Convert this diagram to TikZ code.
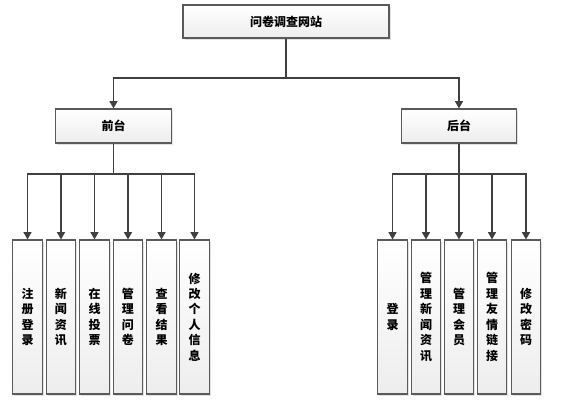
\documentclass[tikz,border=0pt]{standalone}
\usepackage{fontspec}
\usepackage{xcolor}
\usepackage{tikz}
\usetikzlibrary{positioning, arrows.meta, shadows}
\newfontfamily\cjk{Noto Sans CJK SC}
\definecolor{LineGray}{RGB}{64,64,64}
\definecolor{EdgeGray}{RGB}{90,90,90}
\tikzset{
  boxbase/.style={draw=EdgeGray, line width=0.8pt, top color=white, bottom color=gray!14,
    drop shadow={shadow xshift=1.2pt, shadow yshift=-1.2pt, fill=gray!45},
    align=center, inner sep=0pt, font=\cjk\bfseries\fontsize{9}{11.6}\selectfont},
  titlebox/.style={boxbase, minimum width=154.5pt, minimum height=24.75pt},
  sidebox/.style={boxbase, minimum width=86.5pt, minimum height=25.5pt},
  leafbox/.style={boxbase, minimum width=22pt, minimum height=115.5pt},
  link/.style={LineGray, line width=1pt},
  arr/.style={link, -{Triangle[length=5.5pt, width=6pt]}},
}

\begin{document}
\begin{tikzpicture}[x=0.75pt, y=-0.75pt]
  \useasboundingbox (0,0) rectangle (562,403);

  % top level
  \node[titlebox] (site) at (286,21.5) {问卷调查网站};
  \node[sidebox] (front) at (113.5,126) {前台};
  \node[sidebox] (back) at (459,126) {后台};

  % front part
  \node[leafbox] (f1) at (27.5,317) {注\\册\\登\\录};
  \node[leafbox] (f2) at (61,317) {新\\闻\\资\\讯};
  \node[leafbox] (f3) at (94.5,317) {在\\线\\投\\票};
  \node[leafbox] (f4) at (128,317) {管\\理\\问\\卷};
  \node[leafbox] (f5) at (161.5,317) {查\\看\\结\\果};
  \node[leafbox] (f6) at (194.5,317) {修\\改\\个\\人\\信\\息};

  % back part
  \node[leafbox] (b1) at (392.5,317) {登\\录};
  \node[leafbox] (b2) at (426,317) {管\\理\\新\\闻\\资\\讯};
  \node[leafbox] (b3) at (459,317) {管\\理\\会\\员};
  \node[leafbox] (b4) at (492,317) {管\\理\\友\\情\\链\\接};
  \node[leafbox] (b5) at (526,317) {修\\改\\密\\码};

  % connectors
  \coordinate (busTop) at (286,78);
  \coordinate (busFront) at (113.5,174);
  \coordinate (busBack) at (459,174);
  \draw[link] (site) -- (busTop);
  \draw[arr] (busTop) -| (front);
  \draw[arr] (busTop) -| (back);
  \draw[link] (front) -- (busFront);
  \draw[link] (back) -- (busBack);
  \foreach \n in {f1,f2,f3,f4,f5,f6}
    \draw[arr] (busFront) -| (\n);
  \foreach \n in {b1,b2,b3,b4,b5}
    \draw[arr] (busBack) -| (\n);
\end{tikzpicture}
\end{document}
